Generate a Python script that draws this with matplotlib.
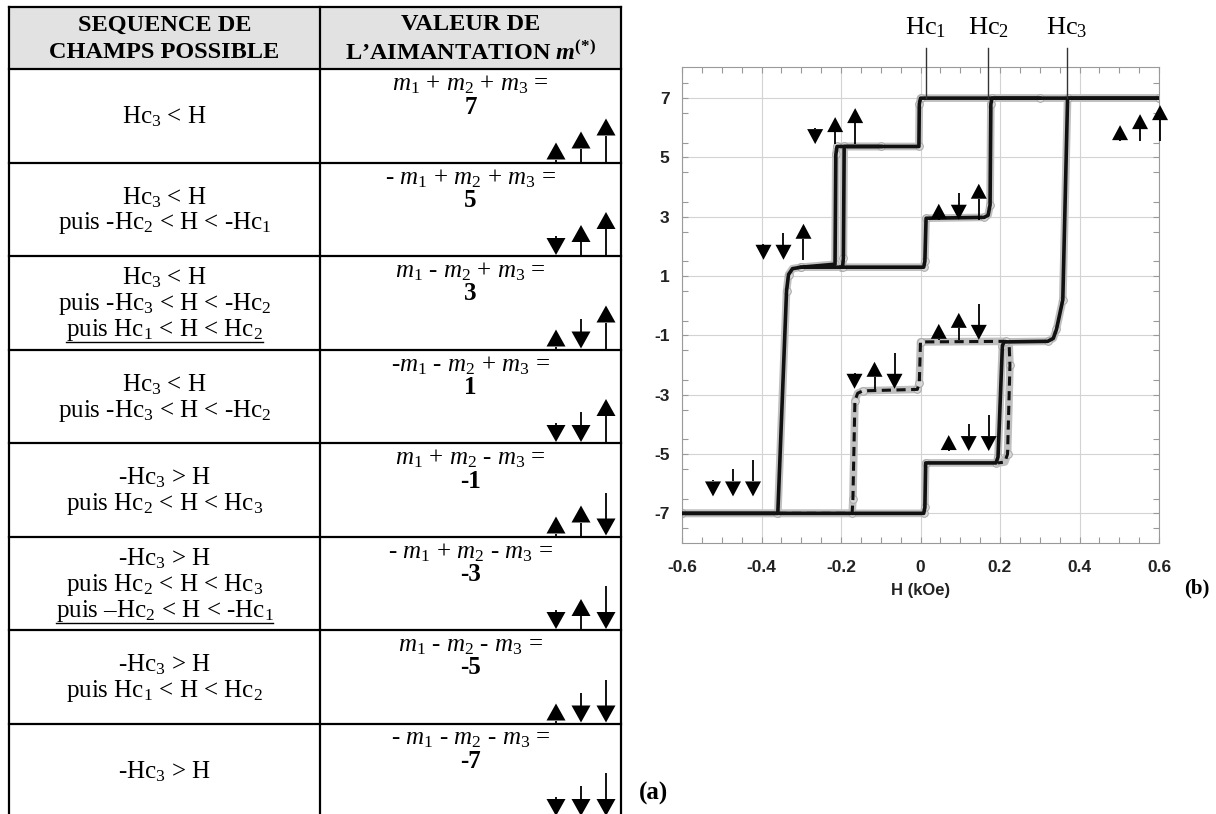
import numpy as np
import matplotlib.pyplot as plt
from matplotlib.patches import Rectangle
from matplotlib.ticker import FixedLocator, MultipleLocator

plt.rcParams['font.family'] = ['Liberation Serif', 'DejaVu Serif']
plt.rcParams['mathtext.fontset'] = 'custom'
plt.rcParams['mathtext.rm'] = 'Liberation Serif'
plt.rcParams['mathtext.it'] = 'Liberation Serif:italic'
plt.rcParams['mathtext.bf'] = 'Liberation Serif:bold:italic'
plt.rcParams['mathtext.sf'] = 'Liberation Serif:bold'

# ---- table (a) ----
header_left = ['SEQUENCE DE', 'CHAMPS POSSIBLE']
header_right = ['VALEUR DE', r'L’AIMANTATION $\mathbf{m}^{\mathsf{(*)}}$']
sequences = [
    ['Hc$_3$ < H'],
    ['Hc$_3$ < H', 'puis -Hc$_2$ < H < -Hc$_1$'],
    ['Hc$_3$ < H', 'puis -Hc$_3$ < H < -Hc$_2$', 'puis Hc$_1$ < H < Hc$_2$'],
    ['Hc$_3$ < H', 'puis -Hc$_3$ < H < -Hc$_2$'],
    ['-Hc$_3$ > H', 'puis Hc$_2$ < H < Hc$_3$'],
    ['-Hc$_3$ > H', 'puis Hc$_2$ < H < Hc$_3$', 'puis –Hc$_2$ < H < -Hc$_1$'],
    ['-Hc$_3$ > H', 'puis Hc$_1$ < H < Hc$_2$'],
    ['-Hc$_3$ > H'],
]
underlined = [2, 5]
m1, m2, m3 = r'$\mathit{m_1}$', r'$\mathit{m_2}$', r'$\mathit{m_3}$'
formulas = [
    f'{m1} + {m2} + {m3} =',
    f'- {m1} + {m2} + {m3} =',
    f'{m1} - {m2} + {m3} =',
    f'-{m1} - {m2} + {m3} =',
    f'{m1} + {m2} - {m3} =',
    f'- {m1} + {m2} - {m3} =',
    f'{m1} - {m2} - {m3} =',
    f'- {m1} - {m2} - {m3} =',
]
values = ['7', '5', '3', '1', '-1', '-3', '-5', '-7']
spins = [[1, 1, 1], [-1, 1, 1], [1, -1, 1], [-1, -1, 1],
         [1, 1, -1], [-1, 1, -1], [1, -1, -1], [-1, -1, -1]]

# ---- hysteresis (b) ----
major_desc_h = [0.60, 0.0, -0.003, -0.004, -0.210, -0.213, -0.215, -0.300, -0.322, -0.332, -0.337, -0.359, -0.60]
major_desc_m = [7.0, 7.0, 6.8, 5.37, 5.37, 5.1, 1.4, 1.3, 1.25, 1.05, 0.5, -7.0, -7.0]
major_asc_h = [-0.60, 0.008, 0.011, 0.013, 0.190, 0.195, 0.206, 0.210, 0.320, 0.334, 0.342, 0.358, 0.370, 0.60]
major_asc_m = [-7.0, -7.0, -6.8, -5.3, -5.3, -5.1, -1.35, -1.22, -1.2, -1.1, -0.8, 0.2, 7.0, 7.0]
upper_h = [-0.20, 0.008, 0.011, 0.014, 0.160, 0.170, 0.175, 0.177, 0.180, 0.30]
upper_m = [1.3, 1.3, 1.5, 2.95, 2.98, 3.05, 3.4, 6.8, 7.0, 7.0]
inner_h = [-0.30, -0.196, -0.194, -0.192, -0.10]
inner_m = [1.3, 1.3, 1.6, 5.37, 5.37]
dashed_h = [-0.36, -0.172, -0.170, -0.165, -0.158, -0.145, -0.008, -0.003, 0.0, 0.215, 0.223, 0.225, 0.219, 0.212, 0.195]
dashed_m = [-7.0, -7.0, -6.5, -3.2, -2.95, -2.87, -2.82, -2.6, -1.22, -1.2, -1.3, -2.0, -5.0, -5.27, -5.3]

states = [7, 5, 3, 1, -1, -3, -5, -7]
state_h = [0.502, -0.265, 0.046, -0.395, 0.046, -0.166, 0.071, -0.522]
state_m = [5.55, 5.45, 2.9, 1.55, -1.15, -2.8, -4.9, -6.43]

hc_names = ['Hc$_1$', 'Hc$_2$', 'Hc$_3$']
hc_fields = [0.014, 0.170, 0.368]

h_ticks = [-0.6, -0.4, -0.2, 0, 0.2, 0.4, 0.6]
h_ticklabels = ['-0.6', '-0.4', '-0.2', '0', '0.2', '0.4', '0.6']
m_ticks = [7, 5, 3, 1, -1, -3, -5, -7]

W, H = 1216, 814
fig = plt.figure(figsize=(W / 100, H / 100), dpi=100)
ax = fig.add_axes([682 / W, 1 - 543 / H, (1159 - 682) / W, (543 - 67) / H])
ov = fig.add_axes([0, 0, 1, 1], zorder=5)
ov.set_xlim(0, W)
ov.set_ylim(H, 0)
ov.axis('off')


def spin(x, yb, up, length, tw, th, slw):
    if up:
        tip = yb - length
        base = tip + th
        ov.fill([x - tw / 2, x + tw / 2, x], [base, base, tip], color='k', lw=0)
        if yb > base:
            ov.plot([x, x], [base, yb], color='k', lw=slw, solid_capstyle='butt')
    else:
        base = yb - th
        ov.fill([x - tw / 2, x + tw / 2, x], [base, base, yb], color='k', lw=0)
        if length > th:
            ov.plot([x, x], [yb - length, base], color='k', lw=slw, solid_capstyle='butt')


# table
x0, xm, x1 = 9, 320, 621
top, head_bot, row_h = 7, 69, 93.5
ov.add_patch(Rectangle((x0, top), x1 - x0, head_bot - top, fc='#e2e2e2', ec='none'))
tl = dict(color='k', lw=1.6)
ov.plot([x0, x1], [top, top], **tl)
for i in range(8):
    y = head_bot + i * row_h
    ov.plot([x0, x1], [y, y], **tl)
for x in (x0, xm, x1):
    ov.plot([x, x], [top, H + 2], **tl)

cl, cr = (x0 + xm) / 2, (xm + x1) / 2
for j, s in enumerate(header_left):
    ov.text(cl, 25 + 28 * j, s, ha='center', va='center', fontsize=17.5, fontweight='bold')
for j, s in enumerate(header_right):
    ov.text(cr, 25 + 28 * j, s, ha='center', va='center', fontsize=17.5, fontweight='bold')

ul_texts = []
for i in range(8):
    rt = head_bot + i * row_h
    n = len(sequences[i])
    for j, s in enumerate(sequences[i]):
        t = ov.text(cl, rt + 48 + (j - (n - 1) / 2) * 26, s, ha='center', va='center', fontsize=18)
        if i in underlined and j == n - 1:
            ul_texts.append(t)
    ov.text(cr, rt + 16, formulas[i], ha='center', va='center', fontsize=18)
    ov.text(cr, rt + 38, values[i], ha='center', va='center', fontsize=18, fontweight='bold')
    yb = rt + row_h - 1
    for k, sg in enumerate(spins[i]):
        spin(556 + 25 * k, yb, sg > 0, [19, 30, 43][k], 19, 17, 1.3)

r = fig.canvas.get_renderer()
for t in ul_texts:
    bb = t.get_window_extent(renderer=r)
    ov.plot([bb.x0, bb.x1], [H - bb.y0 - 1, H - bb.y0 - 1], color='k', lw=1)

ov.text(654, 793, '(a)', ha='center', va='center', fontsize=18, fontweight='bold')
ov.text(1197, 588, '(b)', ha='center', va='center', fontsize=15, fontweight='bold')

# hysteresis plot
ax.set_xlim(-0.6, 0.6)
ax.set_ylim(-8, 8.05)
ax.set_xticks(h_ticks)
ax.set_xticklabels(h_ticklabels, fontfamily='Liberation Sans', fontweight='bold', fontsize=12.5, color='#222')
ax.set_yticks(m_ticks)
ax.set_yticklabels([str(v) for v in m_ticks], fontfamily='Liberation Sans', fontweight='bold', fontsize=12.5, color='#222')
ax.xaxis.set_minor_locator(MultipleLocator(0.05))
ax.yaxis.set_minor_locator(FixedLocator(np.arange(-7.5, 8, 1.0)))
ax.tick_params(which='both', direction='in', top=True, right=True, color='#999999', length=4, width=0.8)
ax.tick_params(axis='x', pad=12)
ax.tick_params(axis='y', pad=9)
ax.grid(True, which='major', color='#d3d3d3', lw=0.8)
for sp in ax.spines.values():
    sp.set_color('#9a9a9a')
    sp.set_linewidth(0.8)
ax.set_xlabel('H (kOe)', fontfamily='Liberation Sans', fontweight='bold', fontsize=12, labelpad=6, color='#222')


def curve(h, m, dashed=False):
    ax.plot(h, m, color='#c0c0c0', lw=5.5, marker='o', ms=5.5, mfc='#d8d8d8', mec='#a8a8a8', mew=0.7,
            markevery=0.025, solid_capstyle='round', zorder=2)
    ax.plot(h, m, color='#111111', lw=2.2 if dashed else 2.6, ls=(0, (3, 1.8)) if dashed else '-', zorder=3)


curve(major_desc_h, major_desc_m)
curve(major_asc_h, major_asc_m)
curve(upper_h, upper_m)
curve(inner_h, inner_m)
curve(dashed_h, dashed_m, dashed=True)

for name, hc in zip(hc_names, hc_fields):
    ax.plot([hc, hc], [7, 8.68], color='#333333', lw=1, clip_on=False, zorder=4)
    ax.text(hc, 9.39, name, ha='center', va='center', fontsize=19, clip_on=False)

for k, st in enumerate(states):
    sg = spins[values.index(str(st))]
    px, py = ax.transData.transform((state_h[k], state_m[k]))
    for j in range(3):
        spin(px + 20 * j, H - py, sg[j] > 0, [16, 27, 36][j], 16, 15, 1.3)

fig.savefig('out.png', dpi=100)
